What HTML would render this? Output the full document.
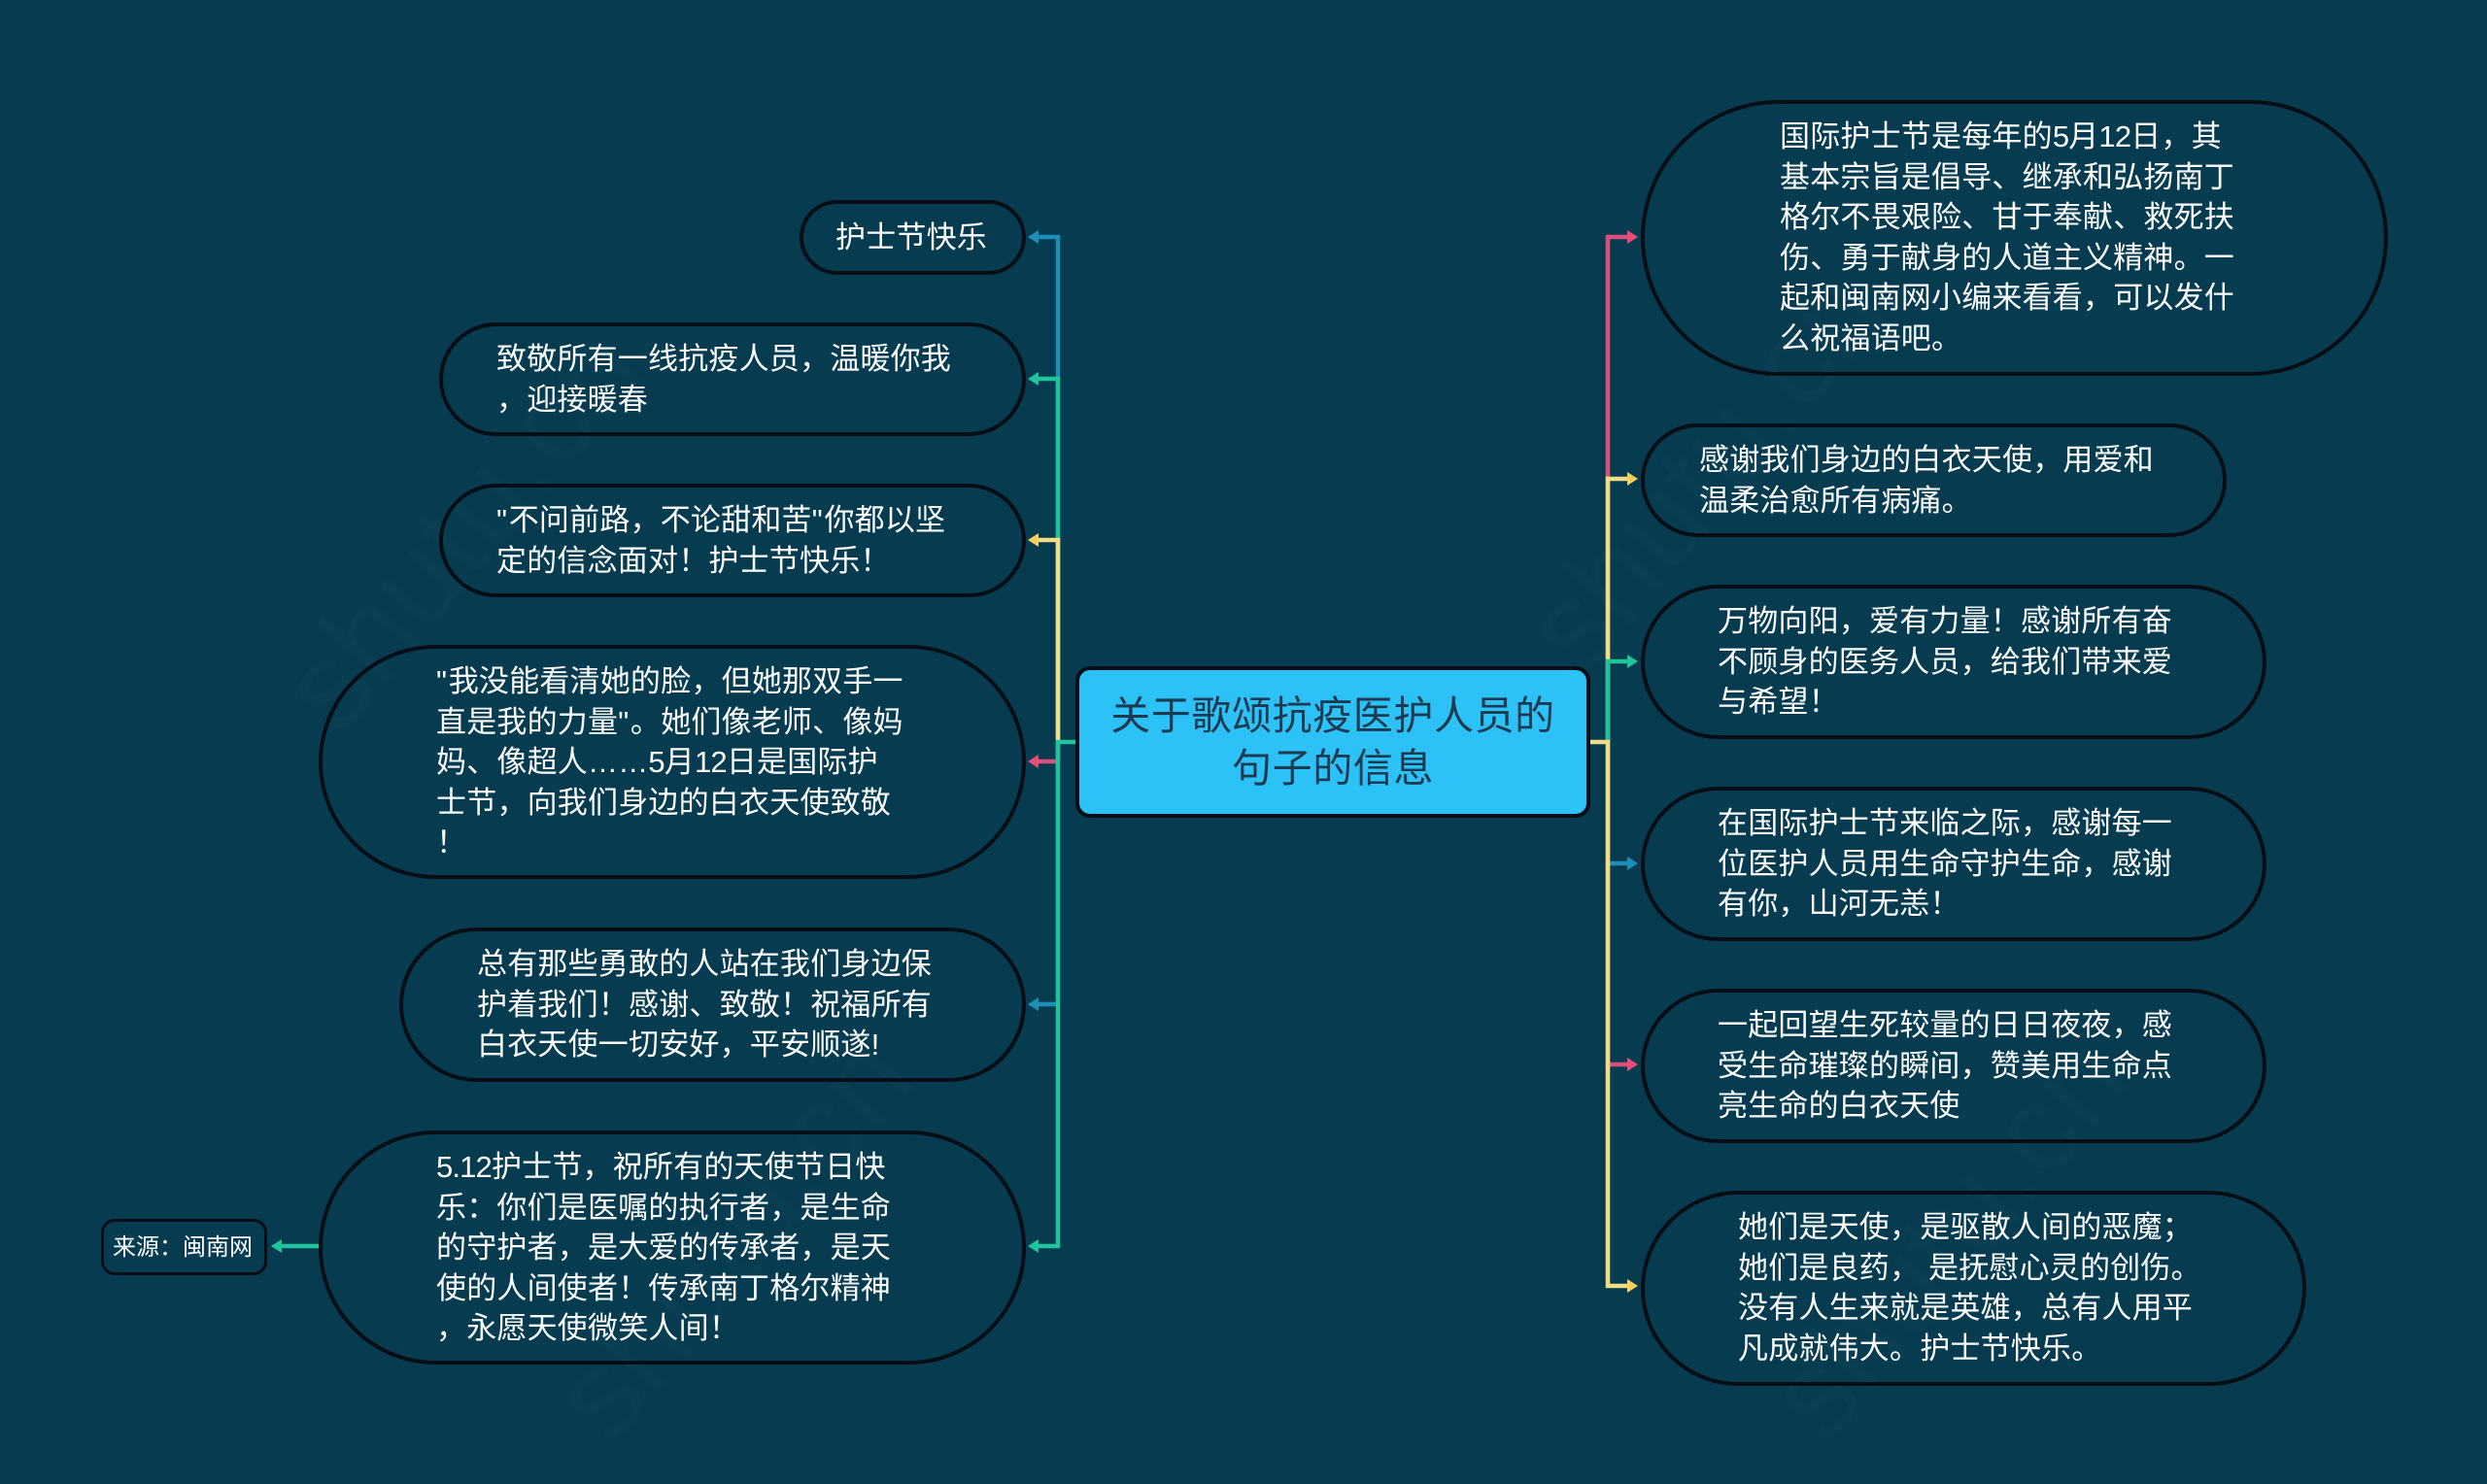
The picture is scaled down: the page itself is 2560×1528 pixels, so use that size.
<!DOCTYPE html>
<html lang="zh">
<head>
<meta charset="utf-8">
<style>
html,body{margin:0;padding:0;width:2560px;height:1528px;overflow:hidden;background:#073b50}
#p{position:absolute;left:0;top:0;width:2560px;height:1528px;overflow:hidden;background:#073b50;font-family:"Liberation Sans","Noto Sans CJK SC",sans-serif}
.n{position:absolute;box-sizing:border-box;border:4.5px solid #050e14}
.t{position:absolute;white-space:pre;font-size:31px;line-height:41.6px;letter-spacing:.2px;color:#fbfdfe;margin-top:1px}
.q{letter-spacing:1.7px}
.d{letter-spacing:-.85px}
svg{position:absolute;left:0;top:0;overflow:hidden}
</style>
</head>
<body>
<div id="p">
<svg width="2560" height="1528" viewBox="0 0 2560 1528" fill="none" stroke-width="4.5">
  <g fill="#0a3e52" font-size="130" font-family="Liberation Sans, sans-serif">
    <text transform="translate(350 760) rotate(-50)">shutu.cn</text>
    <text transform="translate(1630 700) rotate(-50)">shutu.cn</text>
    <text transform="translate(1880 1490) rotate(-50)">shutu.cn</text>
    <text transform="translate(630 1490) rotate(-50)">shutu.cn</text>
  </g>
  <!-- left -->
  <path d="M1089 764V244H1062" stroke="#1d8eb8"/>
  <path d="M1089 764V784H1062" stroke="#d9507c"/>
  <path d="M1089 764V1034H1062" stroke="#1d8eb8"/>
  <path d="M1089 764V390H1062" stroke="#20c49a"/>
  <path d="M1089 764V556H1062" stroke="#f2dd85"/>
  <path d="M1108 764H1089V1283H1062" stroke="#20c49a"/>
  <path d="M328 1283H284" stroke="#20c49a"/>
  <g stroke="none">
    <path d="M1058 244l11-7v14z" fill="#1d8eb8"/>
    <path d="M1058 390l11-7v14z" fill="#20c49a"/>
    <path d="M1058 556l11-7v14z" fill="#f8cf5a"/>
    <path d="M1058 784l11-7v14z" fill="#ea4c75"/>
    <path d="M1058 1034l11-7v14z" fill="#1d8eb8"/>
    <path d="M1058 1283l11-7v14z" fill="#20c49a"/>
    <path d="M279 1283l11-7v14z" fill="#20c49a"/>
  </g>
  <!-- right -->
  <path d="M1655 764V244H1680" stroke="#d9507c"/>
  <path d="M1655 764V889H1680" stroke="#1d8eb8"/>
  <path d="M1655 764V1096H1680" stroke="#d9507c"/>
  <path d="M1655 764V493H1680" stroke="#f2dd85"/>
  <path d="M1655 764V681H1680" stroke="#20c49a"/>
  <path d="M1636 764H1655V1324H1680" stroke="#f2dd85"/>
  <g stroke="none">
    <path d="M1686 244l-11-7v14z" fill="#ea4c75"/>
    <path d="M1686 493l-11-7v14z" fill="#f8cf5a"/>
    <path d="M1686 681l-11-7v14z" fill="#20c49a"/>
    <path d="M1686 889l-11-7v14z" fill="#1d8eb8"/>
    <path d="M1686 1096l-11-7v14z" fill="#ea4c75"/>
    <path d="M1686 1324l-11-7v14z" fill="#f8cf5a"/>
  </g>
</svg>

<!-- center -->
<div class="n" style="left:1107px;top:686px;width:530px;height:156px;border-radius:15px;background:#2dc2f7"></div>
<div class="t" style="left:1108px;top:709px;width:528px;text-align:center;font-size:41px;line-height:54px;letter-spacing:.6px;color:#1d3b50">关于歌颂抗疫医护人员的
句子的信息</div>

<!-- left nodes -->
<div class="n" style="left:822.5px;top:205.5px;width:233px;height:77px;border-radius:39px"></div>
<div class="t" style="left:860px;top:223px">护士节快乐</div>

<div class="n" style="left:451.5px;top:331.5px;width:604px;height:117px;border-radius:59px"></div>
<div class="t" style="left:511px;top:348px">致敬所有一线抗疫人员，温暖你我
，迎接暖春</div>

<div class="n" style="left:451.5px;top:497.5px;width:604px;height:117px;border-radius:59px"></div>
<div class="t" style="left:511px;top:514px"><span class="q">"</span>不问前路，不论甜和苦<span class="q">"</span>你都以坚
定的信念面对！护士节快乐！</div>

<div class="n" style="left:327.5px;top:663.5px;width:728px;height:241px;border-radius:121px"></div>
<div class="t" style="left:449px;top:680px"><span class="q">"</span>我没能看清她的脸，但她那双手一
直是我的力量<span class="q">"</span>。她们像老师、像妈
妈、像超人……<span class="d">5</span>月<span class="d">12</span>日是国际护
士节，向我们身边的白衣天使致敬
！</div>

<div class="n" style="left:410.5px;top:954.5px;width:645px;height:159px;border-radius:80px"></div>
<div class="t" style="left:491px;top:971px">总有那些勇敢的人站在我们身边保
护着我们！感谢、致敬！祝福所有
白衣天使一切安好，平安顺遂!</div>

<div class="n" style="left:327.5px;top:1163.5px;width:728px;height:241px;border-radius:121px"></div>
<div class="t" style="left:449px;top:1180px"><span class="d">5.12</span>护士节，祝所有的天使节日快
乐：你们是医嘱的执行者，是生命
的守护者，是大爱的传承者，是天
使的人间使者！传承南丁格尔精神
，永愿天使微笑人间！</div>

<div class="n" style="left:103.5px;top:1254.5px;width:171px;height:58px;border-radius:14px;border-width:3px"></div>
<div class="t" style="left:116px;top:1268px;font-size:24px;line-height:32px;letter-spacing:0">来源：闽南网</div>

<!-- right nodes -->
<div class="n" style="left:1689px;top:102.5px;width:768.5px;height:284px;border-radius:142px"></div>
<div class="t" style="left:1832px;top:119px">国际护士节是每年的<span class="d">5</span>月<span class="d">12</span>日，其
基本宗旨是倡导、继承和弘扬南丁
格尔不畏艰险、甘于奉献、救死扶
伤、勇于献身的人道主义精神。一
起和闽南网小编来看看，可以发什
么祝福语吧。</div>

<div class="n" style="left:1689px;top:435.5px;width:602.5px;height:117px;border-radius:59px"></div>
<div class="t" style="left:1749px;top:452px">感谢我们身边的白衣天使，用爱和
温柔治愈所有病痛。</div>

<div class="n" style="left:1689px;top:601.5px;width:643.5px;height:159px;border-radius:80px"></div>
<div class="t" style="left:1768px;top:618px">万物向阳，爱有力量！感谢所有奋
不顾身的医务人员，给我们带来爱
与希望！</div>

<div class="n" style="left:1689px;top:809.5px;width:643.5px;height:159px;border-radius:80px"></div>
<div class="t" style="left:1768px;top:826px">在国际护士节来临之际，感谢每一
位医护人员用生命守护生命，感谢
有你，山河无恙！</div>

<div class="n" style="left:1689px;top:1017.5px;width:643.5px;height:159px;border-radius:80px"></div>
<div class="t" style="left:1768px;top:1034px">一起回望生死较量的日日夜夜，感
受生命璀璨的瞬间，赞美用生命点
亮生命的白衣天使</div>

<div class="n" style="left:1689px;top:1225.5px;width:684.5px;height:201px;border-radius:101px"></div>
<div class="t" style="left:1789px;top:1242px">她们是天使，是驱散人间的恶魔；
她们是良药， 是抚慰心灵的创伤。
没有人生来就是英雄，总有人用平
凡成就伟大。护士节快乐。</div>
</div>
</body>
</html>
